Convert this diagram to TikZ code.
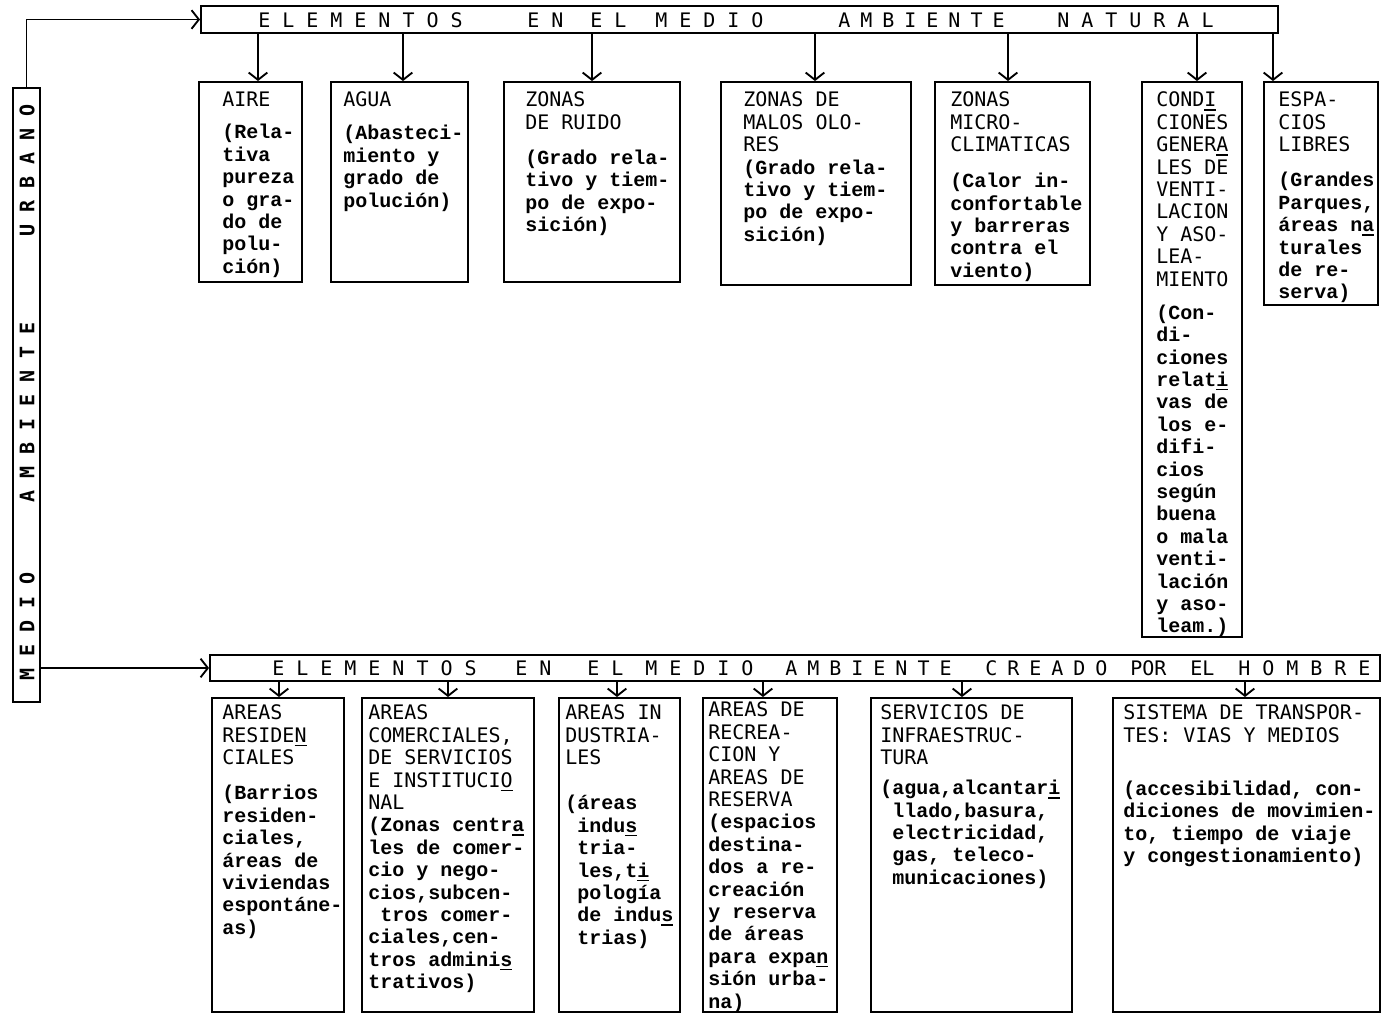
\documentclass[tikz,border=0pt]{standalone}
\usepackage{fontspec}
\newfontfamily\hdrfam{DejaVu Sans Mono}
\newfontfamily\dscfam{Liberation Mono}
\usetikzlibrary{arrows.meta,fit}
\newcommand\hdr{\hdrfam\mdseries\fontsize{15pt}{16.8pt}\selectfont\frenchspacing}
\newcommand\dsc{\dscfam\bfseries\fontsize{15pt}{16.8pt}\selectfont\frenchspacing}
\newcommand\vtf{\hdrfam\bfseries\fontsize{15pt}{16.8pt}\selectfont}
\newcommand\lsp{\hspace{9pt}}
\newcommand\lsps{\hspace{7.5pt}}
\newcommand\indsp{\hbox to 9pt{}}
\newcommand\uln[1]{\rlap{\rule[-3pt]{9pt}{1.1pt}}#1}
\newcommand\dl{\\\dsc}
\begin{document}
\begin{tikzpicture}[x=0.75pt,y=-0.75pt,
  box/.style={draw, line width=1.4pt, inner sep=0pt},
  txt/.style={anchor=north west, inner sep=0pt, align=left, font=\hdr},
  hw/.style={anchor=base west, inner sep=0pt, font=\hdr},
  vw/.style={rotate=90, anchor=west, inner sep=0pt, font=\vtf},
  arr/.style={line width=1.4pt, -{Straight Barb[length=5.5pt,width=14pt]}}]
\useasboundingbox (0,0) rectangle (1386,1014);

% bars
\node[box, fit={(201,6) (1278,33)}] (top) {};
\node[box, fit={(210,655) (1380,681)}] (bot) {};
\node[box, fit={(13,88) (40,702)}] (vb) {};

% top bar text
\node[hw] (t1) at (258,27) {E\lsp L\lsp E\lsp M\lsp E\lsp N\lsp T\lsp O\lsp S};
\node[hw] (t2) at (527,27) {E\lsp N};
\node[hw] (t3) at (590,27) {E\lsp L};
\node[hw] (t4) at (655,27) {M\lsp E\lsp D\lsp I\lsp O};
\node[hw] (t5) at (838,27) {A\lsps M\lsps B\lsps I\lsps E\lsps N\lsps T\lsps E};
\node[hw] (t6) at (1057,27) {N\lsp A\lsp T\lsp U\lsp R\lsp A\lsp L};

% bottom bar text
\node[hw] (b1) at (272,675) {E\lsp L\lsp E\lsp M\lsp E\lsp N\lsp T\lsp O\lsp S};
\node[hw] (b2) at (515,675) {E\lsp N};
\node[hw] (b3) at (587,675) {E\lsp L};
\node[hw] (b4) at (645,675) {M\lsp E\lsp D\lsp I\lsp O};
\node[hw] (b5) at (785,675) {A\lsps M\lsps B\lsps I\lsps E\lsps N\lsps T\lsps E};
\node[hw] (b6) at (985,675) {C\lsps R\lsps E\lsps A\lsps D\lsps O};
\node[hw] (b7) at (1130,675) {POR};
\node[hw] (b8) at (1190,675) {EL};
\node[hw] (b9) at (1238,675) {H\lsp O\lsp M\lsp B\lsp R\lsp E};

% vertical text
\node[vw] (v1) at (27,681) {M\lsp E\lsp D\lsp I\lsp O};
\node[vw] (v2) at (27,503) {A\lsp M\lsp B\lsp I\lsp E\lsp N\lsp T\lsp E};
\node[vw] (v3) at (27,237) {U\lsp R\lsp B\lsp A\lsp N\lsp O};

% top boxes
\node[box, fit={(199,82) (302,282)}] (aire) {};
\node[box, fit={(331,82) (468,282)}] (agua) {};
\node[box, fit={(504,82) (680,282)}] (ruido) {};
\node[box, fit={(721,82) (911,285)}] (malos) {};
\node[box, fit={(935,82) (1090,285)}] (micro) {};
\node[box, fit={(1142,82) (1242,637)}] (condi) {};
\node[box, fit={(1264,82) (1378,305)}] (espa) {};

% bottom boxes
\node[box, fit={(212,698) (344,1012)}] (resid) {};
\node[box, fit={(362,698) (534,1012)}] (comer) {};
\node[box, fit={(559,698) (680,1012)}] (indus) {};
\node[box, fit={(703,698) (837,1012)}] (recre) {};
\node[box, fit={(871,698) (1072,1012)}] (servi) {};
\node[box, fit={(1113,698) (1380,1012)}] (siste) {};

% connectors
\draw[arr] (vb.north) |- (top.west);
\draw[arr] (vb.east |- bot.west) -- (bot.west);

\coordinate (xa) at (258,0);
\coordinate (xb) at (403,0);
\coordinate (xc) at (592,0);
\coordinate (xd) at (815,0);
\coordinate (xe) at (1008,0);
\coordinate (xf) at (1197,0);
\coordinate (xg) at (1273,0);
\draw[arr] (top.south -| xa) -- (aire.north -| xa);
\draw[arr] (top.south -| xb) -- (agua.north -| xb);
\draw[arr] (top.south -| xc) -- (ruido.north -| xc);
\draw[arr] (top.south -| xd) -- (malos.north -| xd);
\draw[arr] (top.south -| xe) -- (micro.north -| xe);
\draw[arr] (top.south -| xf) -- (condi.north -| xf);
\draw[arr] (top.south -| xg) -- (espa.north -| xg);

\coordinate (ya) at (279,0);
\coordinate (yb) at (448,0);
\coordinate (yc) at (617,0);
\coordinate (yd) at (763,0);
\coordinate (ye) at (962,0);
\coordinate (yf) at (1245,0);
\draw[arr] (bot.south -| ya) -- (resid.north -| ya);
\draw[arr] (bot.south -| yb) -- (comer.north -| yb);
\draw[arr] (bot.south -| yc) -- (indus.north -| yc);
\draw[arr] (bot.south -| yd) -- (recre.north -| yd);
\draw[arr] (bot.south -| ye) -- (servi.north -| ye);
\draw[arr] (bot.south -| yf) -- (siste.north -| yf);

% top box texts
\node[txt] (aireT) at (222,91) {\strut AIRE\\[7.2pt]\dsc (Rela-\dl tiva\dl pureza\dl o gra-\dl do de\dl polu-\dl ción)};
\node[txt] (aguaT) at (343,91) {\strut AGUA\\[7.9pt]\dsc (Abasteci-\dl miento y\dl grado de\dl polución)};
\node[txt] (ruidoT) at (525,91) {\strut ZONAS\\DE RUIDO\\[9.5pt]\dsc (Grado rela-\dl tivo y tiem-\dl po de expo-\dl sición)};
\node[txt] (malosT) at (743,91) {\strut ZONAS DE\\MALOS OLO-\\RES\dl (Grado rela-\dl tivo y tiem-\dl po de expo-\dl sición)};
\node[txt] (microT) at (950,91) {\strut ZONAS\\MICRO-\\CLIMATICAS\\[10.2pt]\dsc (Calor in-\dl confortable\dl y barreras\dl contra el\dl viento)};
\node[txt] (condiT) at (1156,91) {\strut COND\uln{I}\\CIONES\\GENER\uln{A}\\LES DE\\VENTI-\\LACION\\Y ASO-\\LEA-\\MIENTO\\[8pt]\dsc (Con-\dl di-\dl ciones\dl relat\uln{i}\dl vas de\dl los e-\dl difi-\dl cios\dl según\dl buena\dl o mala\dl venti-\dl lación\dl y aso-\dl leam.)};
\node[txt] (espaT) at (1278,91) {\strut ESPA-\\CIOS\\LIBRES\\[9.5pt]\dsc (Grandes\dl Parques,\dl áreas n\uln{a}\dl turales\dl de re-\dl serva)};

% bottom box texts
\node[txt] (residT) at (222,704) {\strut AREAS\\RESIDE\uln{N}\\CIALES\\[9.5pt]\dsc (Barrios\dl residen-\dl ciales,\dl áreas de\dl viviendas\dl espontáne-\dl as)};
\node[txt] (comerT) at (368,704) {\strut AREAS\\COMERCIALES,\\DE SERVICIOS\\E INSTITUCI\uln{O}\\NAL\dl (Zonas centr\uln{a}\dl les de comer-\dl cio y nego-\dl cios,subcen-\dl \indsp tros comer-\dl ciales,cen-\dl tros admini\uln{s}\dl trativos)};
\node[txt] (indusT) at (565,704) {\strut AREAS IN\\DUSTRIA-\\LES\\[17pt]\dsc (áreas\dl \indsp indu\uln{s}\dl \indsp tria-\dl \indsp les,t\uln{i}\dl \indsp pología\dl \indsp de indu\uln{s}\dl \indsp trias)};
\node[txt] (recreT) at (708,701) {\strut AREAS DE\\RECREA-\\CION Y\\AREAS DE\\RESERVA\dl (espacios\dl destina-\dl dos a re-\dl creación\dl y reserva\dl de áreas\dl para expa\uln{n}\dl sión urba-\dl na)};
\node[txt] (serviT) at (880,704) {\strut SERVICIOS DE\\INFRAESTRUC-\\TURA\\[5.7pt]\dsc (agua,alcantar\uln{i}\dl \indsp llado,basura,\dl \indsp electricidad,\dl \indsp gas, teleco-\dl \indsp municaciones)};
\node[txt] (sisteT) at (1123,704) {\strut SISTEMA DE TRANSPOR-\\TES: VIAS Y MEDIOS\\[23pt]\dsc (accesibilidad, con-\dl diciones de movimien-\dl to, tiempo de viaje\dl y congestionamiento)};
\end{tikzpicture}
\end{document}
